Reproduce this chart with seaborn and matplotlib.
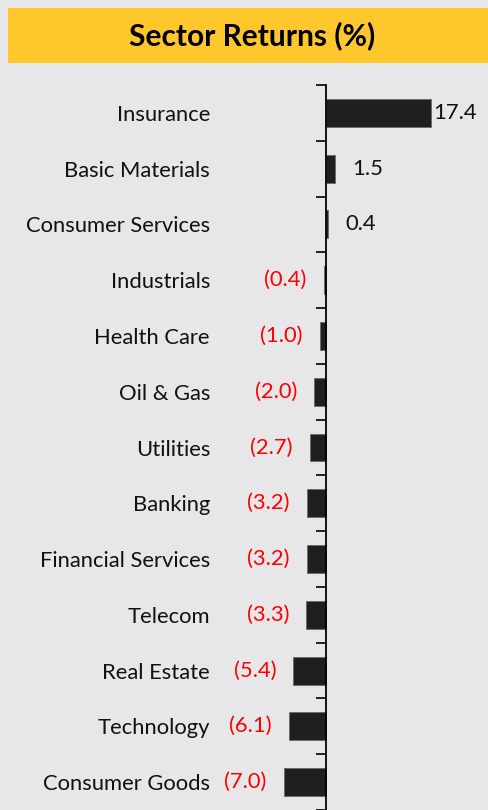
import numpy as np
import pandas as pd
import matplotlib
matplotlib.use("Agg")
import matplotlib.pyplot as plt
from matplotlib.patches import Rectangle
import seaborn as sns

sectors = ["Insurance", "Basic Materials", "Consumer Services", "Industrials",
           "Health Care", "Oil & Gas", "Utilities", "Banking",
           "Financial Services", "Telecom", "Real Estate", "Technology",
           "Consumer Goods"]
returns = [17.4, 1.5, 0.4, -0.4, -1.0, -2.0, -2.7, -3.2, -3.2, -3.3, -5.4, -6.1, -7.0]
title = "Sector Returns (%)"

BG = "#E7E7E9"
BAR = "#1F1F1D"
BANNER = "#FFC72C"
FONT = "Lato"
FS = 15.8

sns.set_theme(style="white")
plt.rcParams["font.family"] = [FONT, "DejaVu Sans"]

W, H, DPI = 488, 810, 100
fig = plt.figure(figsize=(W / DPI, H / DPI), dpi=DPI, facecolor=BG)

# banner
fig.patches.append(Rectangle((8 / W, 1 - 63 / H), (W - 8) / W, 55 / H,
                             transform=fig.transFigure, facecolor=BANNER,
                             edgecolor="none", zorder=0))
fig.text(252 / W, 1 - 36 / H, title, ha="center", va="center",
         fontsize=21.5, fontweight="bold", color="black")

ax = fig.add_axes([0, 0, 1, 1 - 85 / H])
ax.set_facecolor(BG)

df = pd.DataFrame({"sector": sectors, "value": returns})
sns.barplot(data=df, x="value", y="sector", orient="h", color=BAR,
            width=0.5, saturation=1, edgecolor="#6a6a6a", linewidth=0.6, ax=ax)

n = len(sectors)
px_per_unit = 6.06
zero_px = 326
ax.set_xlim(-zero_px / px_per_unit, (W - zero_px) / px_per_unit)
spacing = 56.08
ax.set_ylim(-0.5 + (H - 85) / spacing, -0.5)

for s in ["top", "right", "bottom"]:
    ax.spines[s].set_visible(False)
ax.spines["left"].set_position(("data", 0))
ax.spines["left"].set_color("black")
ax.spines["left"].set_linewidth(1.3)
ax.set_xticks([])
ax.set_xlabel("")
ax.set_ylabel("")
ax.set_yticks(np.arange(n))
ax.set_yticklabels(sectors)
ax.set_yticks(np.arange(-0.5, n + 0.5, 1), minor=True)
ax.tick_params(axis="y", which="major", length=0, pad=(zero_px - 210) * 72 / DPI,
               labelsize=FS, labelcolor="#111111")
ax.tick_params(axis="y", which="minor", length=7, width=1.2, color="black",
               direction="out", left=True)

gap = 17 / px_per_unit
xmax_label = max(returns) + 2 / px_per_unit
for i, v in enumerate(returns):
    if v >= 0:
        x = min(v + gap, xmax_label)
        ax.text(x, i, f"{v:.1f}", ha="left", va="center", fontsize=FS,
                color="#111111")
    else:
        ax.text(v - gap, i, f"({abs(v):.1f})", ha="right", va="center",
                fontsize=FS, color="#FF0000")

fig.savefig("out.png", dpi=DPI, facecolor=BG)
